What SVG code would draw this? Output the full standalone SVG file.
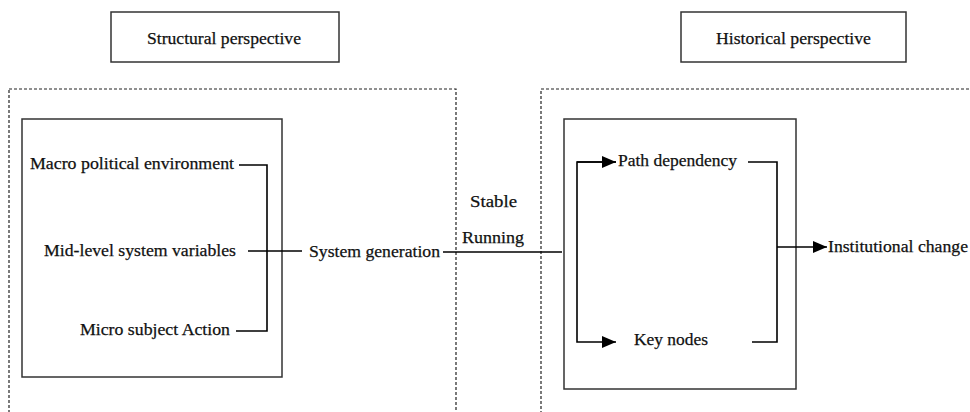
<svg xmlns="http://www.w3.org/2000/svg" width="970" height="412" viewBox="0 0 970 412">
<style>
  .t { font-size: 17px; fill: #111; stroke: #111; stroke-width: 0.25; }
  .box { fill: none; stroke: #333; stroke-width: 1.5; }
  .dash { fill: none; stroke: #222; stroke-width: 1.2; stroke-dasharray: 3 2; }
  .ln { fill: none; stroke: #000; stroke-width: 1.6; }
</style>
<defs>
  <marker id="arr" viewBox="0 0 14 12" refX="14" refY="6" markerWidth="14" markerHeight="12" markerUnits="userSpaceOnUse" orient="auto">
    <path d="M0,0 L14,6 L0,12 Z" fill="#000"/>
  </marker>
</defs>
<rect width="970" height="412" fill="#fff"/>

<g font-family="Liberation Serif, DejaVu Serif, serif">
<g id="structural-perspective">
  <rect class="box" x="111" y="12" width="228" height="50"/>
  <text class="t" x="147" y="44" textLength="154" lengthAdjust="spacingAndGlyphs">Structural perspective</text>
</g>
<g id="historical-perspective">
  <rect class="box" x="681" y="12" width="225" height="50"/>
  <text class="t" x="716" y="44" textLength="155" lengthAdjust="spacingAndGlyphs">Historical perspective</text>
</g>

<g id="structural-frame">
  <rect class="dash" x="9" y="89" width="447" height="340"/>
  <rect class="box" x="22" y="119" width="260" height="258"/>
</g>
<g id="historical-frame">
  <rect class="dash" x="541" y="89" width="450" height="340"/>
  <rect class="box" x="564" y="119" width="232" height="270"/>
</g>

<g id="macro"><text class="t" x="30" y="169" textLength="204" lengthAdjust="spacingAndGlyphs">Macro  political environment</text></g>
<g id="mid"><text class="t" x="44" y="256" textLength="192" lengthAdjust="spacingAndGlyphs">Mid-level system variables</text></g>
<g id="micro"><text class="t" x="80" y="335" textLength="150" lengthAdjust="spacingAndGlyphs">Micro subject Action</text></g>
<g id="system-generation"><text class="t" x="309" y="257" textLength="131" lengthAdjust="spacingAndGlyphs">System generation</text></g>
<g id="stable-running">
  <text class="t" x="470" y="207" textLength="47" lengthAdjust="spacingAndGlyphs">Stable</text>
  <text class="t" x="462" y="243" textLength="62" lengthAdjust="spacingAndGlyphs">Running</text>
</g>
<g id="path-dependency"><text class="t" x="618" y="166" textLength="119" lengthAdjust="spacingAndGlyphs">Path dependency</text></g>
<g id="key-nodes"><text class="t" x="634" y="345" textLength="74" lengthAdjust="spacingAndGlyphs">Key nodes</text></g>
<g id="institutional-change"><text class="t" x="828" y="252" textLength="140" lengthAdjust="spacingAndGlyphs">Institutional change</text></g>
</g>

<g id="connectors">
  <path class="ln" d="M239,165 H267 V331 H236"/>
  <path class="ln" d="M248,251 H302"/>
  <path class="ln" d="M443,252 H562"/>
  <path class="ln" d="M616,162 H577 V342 H616" marker-end="url(#arr)"/>
  <path class="ln" d="M577,162 H616" marker-end="url(#arr)"/>
  <path class="ln" d="M748,162 H777 V342 H752"/>
  <path class="ln" d="M777,247 H827" marker-end="url(#arr)"/>
</g>
</svg>
